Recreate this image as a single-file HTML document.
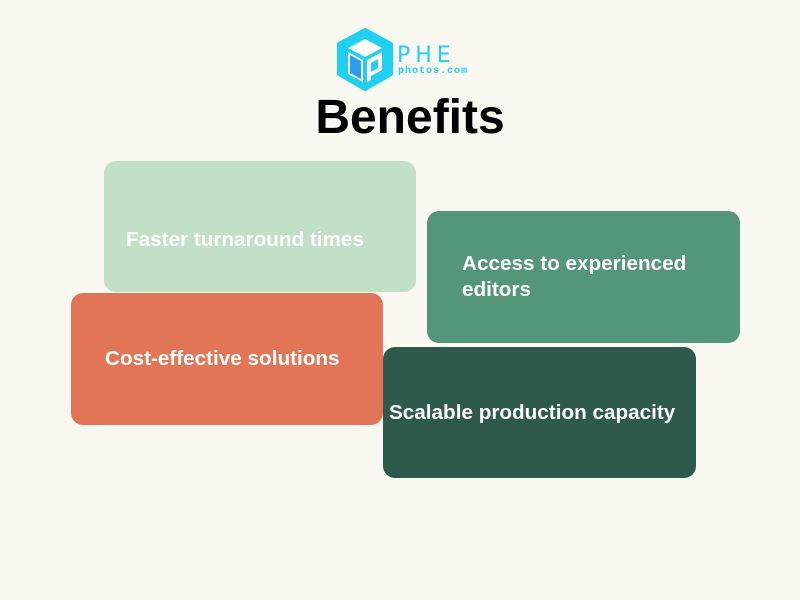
<!DOCTYPE html>
<html><head><style>
body{margin:0;width:800px;height:600px;background:#f9f8f1;position:relative;overflow:hidden;font-family:"Liberation Sans",sans-serif}
.b{position:absolute;border-radius:12px;color:#fff;font-weight:bold;font-size:20.7px;line-height:26px;box-sizing:border-box}
.t{position:absolute;white-space:nowrap}
</style></head><body>
<svg style="position:absolute;left:335px;top:28px" width="60" height="64" viewBox="0 0 60 64">
<polygon points="30,2 56,16 56,46 30,61 4,46 4,16" fill="#1fd0f2" stroke="#1fd0f2" stroke-width="4" stroke-linejoin="round"/>
<polygon points="30,11 47,20 30,29 13,20" fill="#fff"/>
<polygon points="13,24 28,32 28,54 13,46" fill="#fff"/>
<polygon points="15,27 26,33 26,51 15,45" fill="#2a9df0"/>
<polygon points="32,32 47,24 47,42 36,48 36,52 32,54" fill="#fff"/>
<polygon points="36,35 43,31 43,40 36,44" fill="#1fd0f2"/>
</svg>
<div style="position:absolute;left:397px;top:43px;font-size:22px;color:#1fd0f2;letter-spacing:5px;font-family:'DejaVu Sans',sans-serif">PHE</div>
<div style="position:absolute;left:398px;top:66px;font-size:10px;color:#1fd0f2;letter-spacing:1px;font-family:'Liberation Mono',monospace;font-weight:bold">photos.com</div>
<div style="position:absolute;left:0;width:820px;text-align:center;top:90px;font-size:48px;font-weight:bold;color:#000">Benefits</div>
<div class="b" style="left:104px;top:161px;width:312px;height:131px;background:#c2dfc8"><span class="t" style="left:22px;top:66px">Faster turnaround times</span></div>
<div class="b" style="left:427px;top:211px;width:313px;height:132px;background:#53967a"><span class="t" style="left:35px;top:40px">Access to experienced<br>editors</span></div>
<div class="b" style="left:71px;top:293px;width:312px;height:132px;background:#e27556"><span class="t" style="left:34px;top:53px">Cost-effective solutions</span></div>
<div class="b" style="left:383px;top:347px;width:313px;height:131px;background:#2d5a4c"><span class="t" style="left:6px;top:53px">Scalable production capacity</span></div>
</body></html>
